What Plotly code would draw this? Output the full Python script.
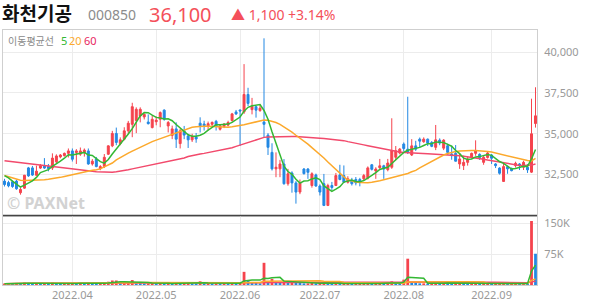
import pandas as pd
import plotly.graph_objects as go

# ---------------- data ----------------
HOLIDAYS = ['2022-03-09', '2022-05-05', '2022-06-01', '2022-06-06',
            '2022-08-15', '2022-09-09', '2022-09-12']
dates = [d.strftime('%Y-%m-%d') for d in pd.bdate_range('2022-03-08', '2022-09-20')
         if d.strftime('%Y-%m-%d') not in HOLIDAYS]

opens = [32100, 32010, 32060, 32100, 31390, 31670, 32910, 32910, 32460, 32900,
         33050, 32990, 32900, 33280, 33580, 33660, 33800, 33950, 33850, 33750,
         33850, 33950, 33150, 33455, 32865, 32990, 33750, 34260, 35020, 34410,
         34670, 35180, 35580, 35820, 36090, 36030, 35720, 35380, 35740, 35890,
         36450, 35480, 34900, 35300, 34400, 35180, 34870, 34630, 34800, 35650,
         35600, 35450, 35580, 35760, 35280, 35450, 35530, 35810, 36340, 36460,
         36330, 37410, 36480, 36660, 36420, 35720, 34915, 33860, 32850, 32850,
         33150, 31940, 32600, 31990, 31430, 32840, 32840, 31830, 32480, 31800,
         31940, 30610, 31830, 31830, 32480, 32440, 32030, 32130, 32200, 32200,
         32240, 32280, 33100, 32720, 32920, 33040, 32800, 32950, 33560, 33820,
         34370, 34060, 33700, 34260, 34670, 34510, 34670, 34470, 34170, 34610,
         34120, 34270, 33760, 33800, 33150, 33050, 33250, 33580, 33800, 33740,
         33250, 33550, 33700, 33150, 32900, 32080, 32990, 32880, 33050, 33150,
         32950, 32950, 32650, 35630]
highs = [32240, 32120, 32140, 32180, 31690, 32480, 32970, 33030, 33050, 33150,
         33510, 33150, 33800, 33740, 33760, 33850, 34100, 34100, 34060, 34160,
         34100, 34100, 33450, 33580, 33080, 33760, 34290, 35180, 35380, 34780,
         35400, 35790, 36900, 36620, 36620, 36250, 36190, 36130, 36070, 36370,
         36500, 35790, 35500, 35700, 35300, 35480, 35000, 35000, 35050, 36010,
         35800, 35750, 35750, 35850, 35550, 35650, 35800, 36280, 36460, 36480,
         39270, 37820, 37200, 36700, 36800, 40850, 35040, 34420, 33860, 33400,
         33450, 32850, 32700, 32100, 32200, 32900, 32900, 32640, 32560, 31900,
         32540, 31940, 32050, 32600, 33100, 33060, 32400, 32300, 32350, 32300,
         32540, 33000, 33150, 32950, 33460, 33100, 33460, 35950, 34250, 34130,
         34470, 37270, 34670, 34570, 34770, 34780, 34710, 34550, 35540, 34720,
         34670, 34400, 34270, 34310, 33800, 33660, 33620, 33850, 34600, 33800,
         33680, 33930, 33760, 33200, 32950, 33150, 33050, 32930, 33290, 33200,
         33350, 33150, 37150, 37850]
lows = [31770, 31720, 31690, 31570, 31270, 31630, 32360, 32420, 32420, 32840,
        32850, 32700, 32780, 33200, 33500, 33600, 33550, 33300, 33150, 33650,
        33600, 33100, 33050, 32950, 32770, 32900, 33700, 34180, 34300, 34300,
        34600, 34980, 34790, 35040, 35700, 35880, 35570, 35330, 35520, 35400,
        35800, 35080, 34670, 34130, 34100, 34670, 34130, 34500, 34450, 35080,
        35200, 35200, 35450, 35200, 35200, 35350, 35450, 35750, 36150, 34260,
        36220, 36700, 36190, 35990, 36350, 34780, 33700, 32750, 32340, 32340,
        31880, 31820, 31390, 30720, 31300, 32500, 32240, 31700, 31750, 31220,
        30570, 30570, 31550, 31800, 32150, 32000, 31950, 31830, 31840, 31780,
        32150, 32200, 32750, 32240, 32850, 32240, 32700, 32850, 33380, 33740,
        33920, 33760, 33640, 33950, 34160, 34450, 34250, 34180, 34000, 34300,
        34000, 33700, 33410, 33300, 32850, 32780, 33050, 33500, 33650, 33400,
        33100, 33480, 33150, 32900, 32500, 32050, 32550, 32700, 32930, 32780,
        32780, 32600, 32600, 35380]
closes = [31890, 31810, 31770, 31630, 31590, 32460, 32420, 32470, 32710, 33050,
          32900, 32870, 33510, 33640, 33700, 33800, 33950, 33440, 33950, 33950,
          34000, 33150, 33320, 32990, 32990, 33560, 34260, 35020, 34470, 34630,
          35180, 35650, 36660, 36500, 36500, 36190, 35620, 35890, 35830, 36300,
          35890, 35690, 35300, 34670, 35180, 34920, 34630, 34840, 34680, 35490,
          35500, 35620, 35700, 35490, 35490, 35600, 35690, 36220, 36220, 36400,
          37410, 36860, 36680, 36450, 36570, 35580, 34170, 32850, 32950, 33150,
          31940, 32550, 31990, 31430, 31990, 32560, 32640, 32550, 31800, 31430,
          30610, 31830, 31710, 32440, 32200, 32030, 32240, 31940, 31990, 32070,
          32440, 32910, 32820, 32840, 33040, 32840, 33210, 33960, 33960, 34060,
          34100, 33860, 34260, 34060, 34550, 34670, 34430, 34230, 34630, 34430,
          34610, 33860, 33660, 33320, 33460, 33250, 33455, 33800, 33960, 33540,
          33560, 33820, 33500, 33050, 32580, 32990, 32850, 32740, 33190, 33050,
          33250, 32790, 35000, 36100]
volumes = [3000, 4000, 3000, 5000, 4000, 6000, 4000, 3000, 4000, 3000,
           5000, 4000, 6000, 5000, 3000, 4000, 4000, 5000, 3000, 4000,
           3000, 5000, 4000, 3000, 4000, 6000, 8000, 11000, 11000, 5000,
           6000, 7000, 12000, 6000, 5000, 4000, 4000, 5000, 3000, 5000,
           4000, 4000, 3000, 5000, 4000, 4000, 7000, 4000, 3000, 9000,
           4000, 4000, 3000, 4000, 3000, 4000, 3000, 5000, 4000, 6000,
           32000, 12000, 7000, 5000, 4000, 54000, 9000, 15000, 8000, 7000,
           8000, 6000, 7000, 6000, 5000, 4000, 4000, 5000, 4000, 5000,
           6000, 5000, 3000, 4000, 3000, 3000, 4000, 3000, 3000, 3000,
           4000, 5000, 3000, 3000, 4000, 3000, 4000, 9000, 5000, 4000,
           13000, 64000, 6000, 5000, 4000, 4000, 3000, 4000, 6000, 4000,
           5000, 4000, 3000, 4000, 5000, 4000, 3000, 4000, 5000, 3000,
           4000, 4000, 3000, 3000, 4000, 5000, 3000, 3000, 4000, 3000,
           4000, 3000, 156000, 76000]
ma5_head = [32440, 32300, 32100, 31900]
ma20 = [32440, 32360, 32270, 32210, 32150, 32140, 32140, 32140, 32140, 32150,
        32180, 32210, 32240, 32270, 32330, 32380, 32440, 32480, 32540, 32600,
        32670, 32700, 32760, 32790, 32850, 32970, 33090, 33210, 33400, 33550,
        33700, 33820, 33940, 34060, 34190, 34310, 34400, 34520, 34610, 34700,
        34790, 34870, 34980, 35070, 35160, 35250, 35340, 35400, 35430, 35460,
        35460, 35460, 35440, 35430, 35400, 35380, 35400, 35430, 35460, 35480,
        35550, 35610, 35670, 35740, 35800, 35850, 35830, 35770, 35690, 35580,
        35430, 35280, 35100, 34910, 34730, 34570, 34370, 34150, 33940, 33760,
        33520, 33270, 33030, 32820, 32600, 32360, 32180, 32090, 32040, 32010,
        32000, 32000, 32030, 32060, 32120, 32180, 32240, 32300, 32360, 32420,
        32480, 32570, 32670, 32760, 32910, 33050, 33180, 33330, 33460, 33580,
        33700, 33790, 33860, 33910, 33940, 33960, 33970, 33970, 33970, 33960,
        33940, 33910, 33880, 33820, 33760, 33700, 33640, 33580, 33550, 33490,
        33430, 33360, 33330, 33490]
ma60 = [33350, 33320, 33290, 33260, 33230, 33200, 33180, 33150, 33120, 33080,
        33040, 33010, 32970, 32930, 32900, 32870, 32840, 32810, 32790, 32760,
        32740, 32710, 32700, 32680, 32670, 32650, 32650, 32650, 32680, 32710,
        32760, 32800, 32850, 32900, 32950, 32990, 33040, 33090, 33140, 33190,
        33240, 33290, 33350, 33400, 33460, 33520, 33610, 33670, 33730, 33760,
        33800, 33850, 33890, 33930, 33970, 34030, 34090, 34150, 34230, 34310,
        34390, 34480, 34560, 34640, 34710, 34780, 34810, 34820, 34830, 34840,
        34840, 34840, 34840, 34830, 34820, 34810, 34790, 34780, 34760, 34730,
        34710, 34690, 34660, 34640, 34610, 34580, 34520, 34460, 34410, 34370,
        34320, 34270, 34220, 34170, 34110, 34060, 34000, 33950, 33910, 33880,
        33850, 33830, 33820, 33810, 33800, 33780, 33770, 33760, 33750, 33740,
        33720, 33700, 33690, 33670, 33650, 33630, 33600, 33570, 33530, 33490,
        33440, 33390, 33350, 33300, 33250, 33200, 33150, 33120, 33080, 33060,
        33050, 33050, 33080, 33150]

price_ticks = [32500, 35000, 37500, 40000]
price_tick_text = ['32,500', '35,000', '37,500', '40,000']
vol_ticks = [75000, 150000]
vol_tick_text = ['75K', '150K']
month_ticks = ['2022-04-01', '2022-05-02', '2022-06-02', '2022-07-01', '2022-08-01', '2022-09-01']
month_text = ['2022.04', '2022.05', '2022.06', '2022.07', '2022.08', '2022.09']

# ---------------- derived ----------------
ma5 = pd.Series(closes, dtype=float).rolling(5).mean().tolist()
ma5[:4] = ma5_head
vs = pd.Series(volumes, dtype=float)
vma5 = vs.rolling(5, min_periods=1).mean()
vma20 = vs.rolling(20, min_periods=1).mean()
vma60 = vs.rolling(60, min_periods=1).mean()

RED = '#f5434d'
BLUE = '#2388e3'
GREEN = '#33b833'
ORANGE = '#fca92c'
PINK = '#f24a6c'
GRID = '#ececec'
FONT = 'Noto Sans, Noto Sans CJK KR, sans-serif'

vol_colors = [RED] + [RED if volumes[i] >= volumes[i - 1] else BLUE for i in range(1, len(volumes))]

# ---------------- layout geometry ----------------
W, H = 594, 304
ML, MR, MT, MB = 2, 57, 30, 17
PW, PH = W - ML - MR, H - MT - MB
SPLIT = (287 - 217) / PH


def px(x):
    return (x - ML) / PW


def py(y):
    return (H - MB - y) / PH


fig = go.Figure()
fig.add_trace(go.Candlestick(
    x=dates, open=opens, high=highs, low=lows, close=closes,
    increasing=dict(line=dict(color=RED, width=1), fillcolor=RED),
    decreasing=dict(line=dict(color=BLUE, width=1), fillcolor=BLUE),
    xaxis='x', yaxis='y', showlegend=False, name='화천기공'))
fig.add_trace(go.Scatter(x=dates, y=ma60, mode='lines', line=dict(color=PINK, width=1.5),
                         xaxis='x', yaxis='y', showlegend=False))
fig.add_trace(go.Scatter(x=dates, y=ma20, mode='lines', line=dict(color=ORANGE, width=1.5),
                         xaxis='x', yaxis='y', showlegend=False))
fig.add_trace(go.Scatter(x=dates, y=ma5, mode='lines', line=dict(color=GREEN, width=1.5),
                         xaxis='x', yaxis='y', showlegend=False))

fig.add_trace(go.Bar(x=dates, y=volumes, marker=dict(color=vol_colors, line=dict(width=0)),
                     xaxis='x2', yaxis='y2', showlegend=False))
fig.add_trace(go.Scatter(x=dates, y=vma60, mode='lines', line=dict(color=PINK, width=1.5),
                         xaxis='x2', yaxis='y2', showlegend=False))
fig.add_trace(go.Scatter(x=dates, y=vma20, mode='lines', line=dict(color=ORANGE, width=1.5),
                         xaxis='x2', yaxis='y2', showlegend=False))
fig.add_trace(go.Scatter(x=dates, y=vma5, mode='lines', line=dict(color=GREEN, width=1.5),
                         xaxis='x2', yaxis='y2', showlegend=False))

xr = [-0.375, len(dates) - 1 + 0.375]
common_x = dict(type='category', range=xr, tickvals=month_ticks, ticktext=month_text,
                showgrid=True, gridcolor=GRID, gridwidth=1, zeroline=False,
                showline=True, linecolor='#cfcfcf', linewidth=1, mirror=True,
                rangeslider=dict(visible=False), fixedrange=True)

fig.update_layout(
    width=W, height=H, margin=dict(l=ML, r=MR, t=MT, b=MB),
    paper_bgcolor='white', plot_bgcolor='white',
    font=dict(family=FONT, size=11, color='#999999'),
    bargap=0.3,
    xaxis=dict(common_x, domain=[0, 1], anchor='y', showticklabels=False),
    xaxis2=dict(common_x, domain=[0, 1], anchor='y2', matches='x', showticklabels=True,
                tickfont=dict(size=11, color='#999999'), ticks='', ticklabelstandoff=0),
    yaxis=dict(domain=[SPLIT, 1], anchor='x', side='right', range=[29990, 41360],
               tickvals=price_ticks, ticktext=price_tick_text, showgrid=True, gridcolor=GRID,
               zeroline=False, showline=True, linecolor='#cfcfcf', mirror=True,
               tickfont=dict(size=11, color='#999999'), ticklabelstandoff=4),
    yaxis2=dict(domain=[0, SPLIT], anchor='x2', side='right', range=[0, 169000],
                tickvals=vol_ticks, ticktext=vol_tick_text, showgrid=True, gridcolor=GRID,
                zeroline=False, showline=True, linecolor='#cfcfcf', mirror=True,
                tickfont=dict(size=11, color='#999999'), ticklabelstandoff=4),
    shapes=[dict(type='line', xref='paper', yref='paper', x0=0, x1=1, y0=SPLIT, y1=SPLIT,
                 line=dict(color='#444444', width=1.5))],
)

ann = [
    dict(text='<b>화천기공</b>', x=px(0), y=py(14), size=19, color='#111111'),
    dict(text='000850', x=px(86), y=py(14), size=14, color='#8c8c8c'),
    dict(text='36,100', x=px(147), y=py(14), size=20, color='#f4505a'),
    dict(text='▲ 1,100 +3.14%', x=px(229), y=py(14.5), size=14, color='#f4505a'),
    dict(text='이동평균선', x=px(6), y=py(41), size=10, color='#8a8a8a'),
    dict(text='5', x=px(59), y=py(41), size=11, color=GREEN),
    dict(text='20', x=px(67.5), y=py(41), size=11, color=ORANGE),
    dict(text='60', x=px(82.5), y=py(41), size=11, color='#e8285f'),
    dict(text='<b>© PAXNet</b>', x=px(5), y=py(204), size=16, color='#d2d2d2'),
]
for a in ann:
    fig.add_annotation(text=a['text'], x=a['x'], y=a['y'], xref='paper', yref='paper',
                       xanchor='left', yanchor='middle', showarrow=False, borderpad=0,
                       font=dict(size=a['size'], color=a['color'], family=FONT))

fig.write_html('out.html')
